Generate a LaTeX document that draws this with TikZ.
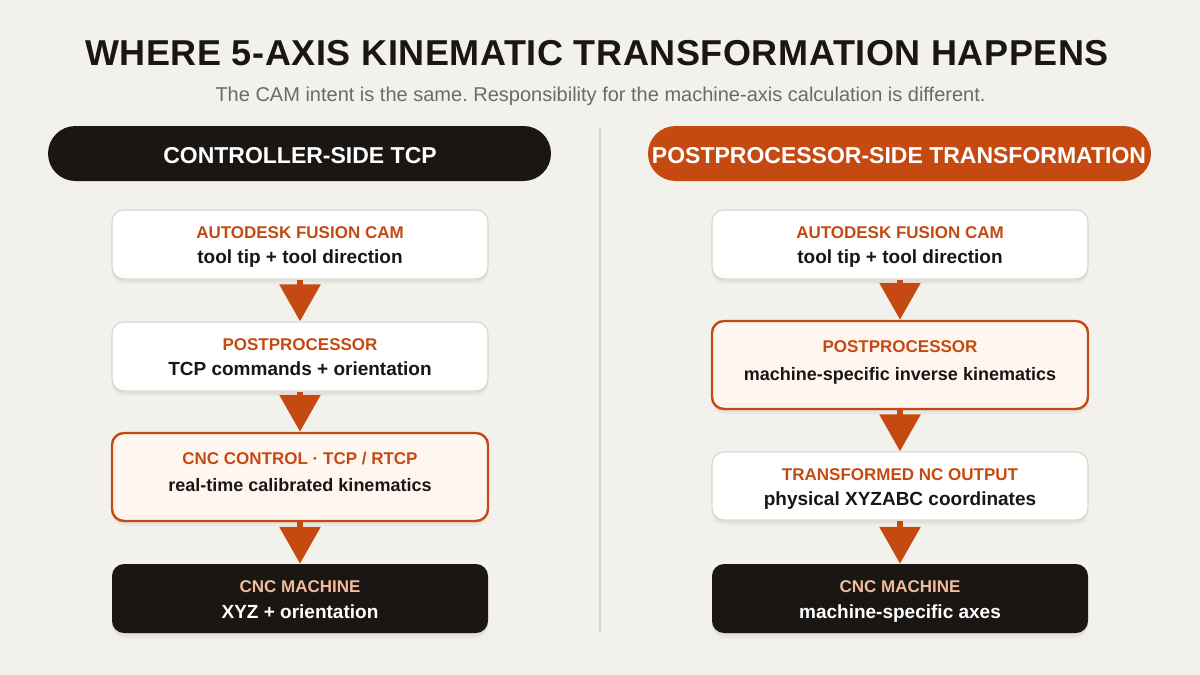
\documentclass[tikz,border=0pt]{standalone}
\usepackage{fontspec}
\setmainfont{Liberation Sans}
\usetikzlibrary{arrows.meta,shadows}
\frenchspacing
\definecolor{bg}{HTML}{F3F1EC}
\definecolor{ink}{HTML}{1A1614}
\definecolor{rust}{HTML}{C54A12}
\definecolor{peach}{HTML}{FFF6F0}
\definecolor{edge}{HTML}{DCD8D2}
\definecolor{subg}{HTML}{6E6A66}
\definecolor{lighttitle}{HTML}{F2BB9C}
\definecolor{divider}{HTML}{D6D2CC}
\tikzset{
 card/.style={rectangle, rounded corners=12pt, minimum width=376pt, inner sep=0pt,
   general shadow={fill=black, fill opacity=0.035, shadow yshift=-5pt, shadow xshift=0pt},
   general shadow={fill=black, fill opacity=0.04, shadow yshift=-2.5pt, shadow xshift=0pt}},
 plaincard/.style={card, fill=white, draw=edge, line width=1.3pt},
 hotcard/.style={card, fill=peach, draw=rust, line width=2.4pt},
 darkcard/.style={card, fill=ink, draw=none},
 ttl/.style={anchor=base, font=\bfseries\fontsize{17}{20}\selectfont, text=rust, inner sep=0pt},
 dttl/.style={ttl, text=lighttitle},
 bdy/.style={anchor=base, font=\bfseries\fontsize{19}{22}\selectfont, text=ink, inner sep=0pt},
 hbdy/.style={bdy, font=\bfseries\fontsize{18}{22}\selectfont},
 dbdy/.style={bdy, text=white},
 flow/.style={draw=rust, line width=6pt, -{Triangle[width=40pt,length=37pt]}},
 pill/.style={rectangle, rounded corners=27.5pt, minimum width=503pt, minimum height=55pt, inner sep=0pt},
 pilltext/.style={anchor=base, font=\bfseries\fontsize{23}{26}\selectfont, text=white, inner sep=0pt},
}
\begin{document}
\begin{tikzpicture}[x=1pt,y=-1pt]
\useasboundingbox (0,0) rectangle (1200,675);
\fill[bg] (0,0) rectangle (1200,675);
% title
\node[anchor=base, font=\bfseries\fontsize{36}{40}\selectfont\addfontfeatures{LetterSpace=1.6}, text=ink, inner sep=0pt] (title) at (597,65) {WHERE 5-AXIS KINEMATIC TRANSFORMATION HAPPENS};
\node[anchor=base, font=\fontsize{20}{24}\selectfont, text=subg, inner sep=0pt] (subtitle) at (600.5,101) {The CAM intent is the same. Responsibility for the machine-axis calculation is different.};
% divider
\coordinate (dtop) at (600,127);
\coordinate (dbot) at (600,632);
\draw[divider, line width=2pt] (dtop) -- (dbot);
% headers
\node[pill, fill=ink] (lp) at (299.5,153.5) {};
\node[pilltext] (lpt) at (300,163.3) {CONTROLLER-SIDE TCP};
\node[pill, fill=rust] (rp) at (899.5,153.5) {};
\node[pilltext] (rpt) at (899,163.3) {POSTPROCESSOR-SIDE TRANSFORMATION};
% left column
\node[plaincard, minimum height=69pt] (L1) at (300,244.5) {};
\node[ttl] (L1t) at (300,238.5) {AUTODESK FUSION CAM};
\node[bdy] (L1b) at (300,263.5) {tool tip + tool direction};
\node[plaincard, minimum height=69pt] (L2) at (300,356.5) {};
\node[ttl] (L2t) at (300,350.7) {POSTPROCESSOR};
\node[bdy] (L2b) at (300,375.7) {TCP commands + orientation};
\node[hotcard, minimum height=88pt] (L3) at (300,477) {};
\node[ttl] (L3t) at (300,464) {CNC CONTROL · TCP / RTCP};
\node[hbdy] (L3b) at (300,491.7) {real-time calibrated kinematics};
\node[darkcard, minimum height=69pt] (L4) at (300,598.5) {};
\node[dttl] (L4t) at (300,592.3) {CNC MACHINE};
\node[dbdy] (L4b) at (300,618.5) {XYZ + orientation};
% right column
\node[plaincard, minimum height=69pt] (R1) at (900,244.5) {};
\node[ttl] (R1t) at (900,238.5) {AUTODESK FUSION CAM};
\node[bdy] (R1b) at (900,263.5) {tool tip + tool direction};
\node[hotcard, minimum height=88pt] (R2) at (900,365) {};
\node[ttl] (R2t) at (900,352.5) {POSTPROCESSOR};
\node[hbdy] (R2b) at (900,380) {machine-specific inverse kinematics};
\node[plaincard, minimum height=68pt] (R3) at (900,486) {};
\node[ttl] (R3t) at (900,480.7) {TRANSFORMED NC OUTPUT};
\node[bdy] (R3b) at (900,505.7) {physical XYZABC coordinates};
\node[darkcard, minimum height=69pt] (R4) at (900,598.5) {};
\node[dttl] (R4t) at (900,592.3) {CNC MACHINE};
\node[dbdy] (R4b) at (900,618.5) {machine-specific axes};
% connectors
\draw[flow] (L1.south) -- (L2.north);
\draw[flow] (L2.south) -- (L3.north);
\draw[flow] (L3.south) -- (L4.north);
\draw[flow] (R1.south) -- (R2.north);
\draw[flow] (R2.south) -- (R3.north);
\draw[flow] (R3.south) -- (R4.north);
\end{tikzpicture}
\end{document}
